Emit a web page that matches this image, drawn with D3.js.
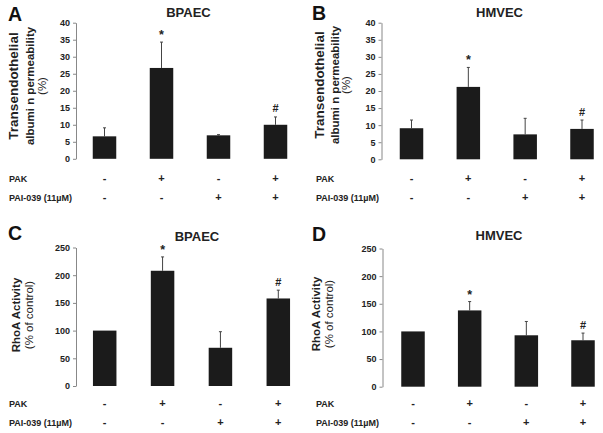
<!DOCTYPE html>
<html><head><meta charset="utf-8">
<script src="https://cdn.jsdelivr.net/npm/d3@7"></script>
<style>
body{margin:0;background:#fff;}
svg{display:block;font-family:"Liberation Sans",Arial,sans-serif;}
</style></head>
<body>
<svg id="chart" width="603" height="433"></svg>
<script>
// ---- data ----
const groups = ["g1", "g2", "g3", "g4"];
const pakSigns = ["-", "+", "-", "+"];
const paiSigns = ["-", "-", "+", "+"];
const rowLabels = ["PAK", "PAI-039 (11µM)"];
const permTicks = [0, 5, 10, 15, 20, 25, 30, 35, 40];
const rhoTicks = [0, 50, 100, 150, 200, 250];
const marks = ["", "*", "", "#"];

const bpaecPerm = [6.6, 26.7, 6.9, 10.0];
const bpaecPermErr = [2.5, 7.6, 0.2, 2.3];
const hmvecPerm = [9.1, 21.2, 7.3, 8.9];
const hmvecPermErr = [2.4, 5.7, 4.7, 2.6];
const bpaecRho = [100, 208, 69, 158];
const bpaecRhoErr = [0, 25, 29, 15];
const hmvecRho = [100, 138, 93, 84];
const hmvecRhoErr = [0, 16, 25, 13];

const permLabel = [["Transendothelial", "bold", 13.5], ["albumi n permeability", "bold", 11.5], ["(%)", "normal", 11.5]];
const rhoLabel = [["RhoA Activity", "bold", 11.5], ["(% of control)", "normal", 11.5]];

// ---- layout ----
const panels = [
  {letter:"A", title:"BPAEC", values:bpaecPerm, err:bpaecPermErr, ticks:permTicks, max:40,
   ax:76, y0:158.8, y1:22.7, c0:104.5, c1:275.5, titleX:188.5, titleY:17, lx:8, ly:21,
   rx:9, r1:182, r2:201, label:permLabel, labX:[18,34,46], labY:86},
  {letter:"B", title:"HMVEC", values:hmvecPerm, err:hmvecPermErr, ticks:permTicks, max:40,
   ax:381.5, y0:159.3, y1:22.7, c0:411.5, c1:582, titleX:499.5, titleY:17, lx:312, ly:20,
   rx:316, r1:182, r2:201, label:permLabel, labX:[324,339,350], labY:85},
  {letter:"C", title:"BPAEC", values:bpaecRho, err:bpaecRhoErr, ticks:rhoTicks, max:250,
   ax:76, y0:386, y1:247.5, c0:104.7, c1:278.3, titleX:197, titleY:241, lx:8, ly:240,
   rx:9, r1:407, r2:426, label:rhoLabel, labX:[20,33], labY:315},
  {letter:"D", title:"HMVEC", values:hmvecRho, err:hmvecRhoErr, ticks:rhoTicks, max:250,
   ax:382.5, y0:386.7, y1:248.5, c0:413, c1:583, titleX:499, titleY:240, lx:312, ly:241,
   rx:316, r1:407, r2:426, label:rhoLabel, labX:[320,333], labY:314}
];

const svg = d3.select("#chart");
const barW = 23.5;
const barColor = "#1b1b1b";

panels.forEach(p => {
  const g = svg.append("g");
  const y = d3.scaleLinear().domain([0, p.max]).range([p.y0, p.y1]);
  const x = d3.scalePoint().domain(groups).range([p.c0, p.c1]);

  // axis
  const axis = d3.axisLeft(y).tickValues(p.ticks).tickSize(3).tickSizeOuter(0).tickPadding(3);
  const ag = g.append("g").attr("transform", `translate(${p.ax},0)`).call(axis);
  ag.select(".domain").attr("stroke", "#888").attr("stroke-width", 1);
  ag.selectAll(".tick line").attr("stroke", "#888");
  ag.selectAll(".tick text").attr("font-size", 9).attr("font-weight", "bold")
    .attr("fill", "#222").attr("font-family", "Liberation Sans, Arial, sans-serif");

  // error bars (upward only)
  const eg = g.append("g");
  groups.forEach((k, i) => {
    if (p.err[i] <= 0) return;
    const cx = x(k), top = y(p.values[i] + p.err[i]);
    eg.append("line").attr("x1", cx).attr("x2", cx)
      .attr("y1", y(p.values[i])).attr("y2", top)
      .attr("stroke", "#444").attr("stroke-width", 1);
    eg.append("line").attr("x1", cx - 1.5).attr("x2", cx + 1.5)
      .attr("y1", top).attr("y2", top).attr("stroke", "#444").attr("stroke-width", 1);
  });

  // bars
  g.append("g").selectAll("rect").data(groups).join("rect")
    .attr("x", (d) => x(d) - barW / 2)
    .attr("width", barW)
    .attr("y", (d, i) => y(p.values[i]))
    .attr("height", (d, i) => y(0) - y(p.values[i]))
    .attr("fill", barColor);

  // significance marks
  g.append("g").selectAll("text").data(groups).join("text")
    .attr("x", d => x(d))
    .attr("y", (d, i) => y(p.values[i] + p.err[i]) - (marks[i] === "#" ? 4.5 : 3))
    .attr("text-anchor", "middle")
    .attr("font-size", (d, i) => marks[i] === "#" ? 11 : 12.5)
    .attr("font-weight", "bold")
    .attr("fill", "#222")
    .text((d, i) => marks[i]);

  // title and letter
  g.append("text").attr("x", p.titleX).attr("y", p.titleY).attr("text-anchor", "middle")
    .attr("font-size", 13).attr("font-weight", "bold").attr("fill", "#222").text(p.title);
  g.append("text").attr("x", p.lx).attr("y", p.ly)
    .attr("font-size", 19.5).attr("font-weight", "bold").attr("fill", "#111").text(p.letter);

  // y label
  p.label.forEach((l, j) => {
    g.append("text").attr("transform", `translate(${p.labX[j]},${p.labY}) rotate(-90)`)
      .attr("text-anchor", "middle").attr("font-size", l[2]).attr("font-weight", l[1])
      .attr("fill", "#222").text(l[0]);
  });

  // treatment rows
  [[rowLabels[0], pakSigns, p.r1], [rowLabels[1], paiSigns, p.r2]].forEach(r => {
    g.append("text").attr("x", p.rx).attr("y", r[2]).attr("font-size", 9)
      .attr("font-weight", "bold").attr("fill", "#222").text(r[0]);
    g.append("g").selectAll("text").data(groups).join("text")
      .attr("x", d => x(d)).attr("y", r[2]).attr("text-anchor", "middle")
      .attr("font-size", 11).attr("font-weight", "bold").attr("fill", "#222")
      .text((d, i) => r[1][i]);
  });
});
</script>
</body></html>
